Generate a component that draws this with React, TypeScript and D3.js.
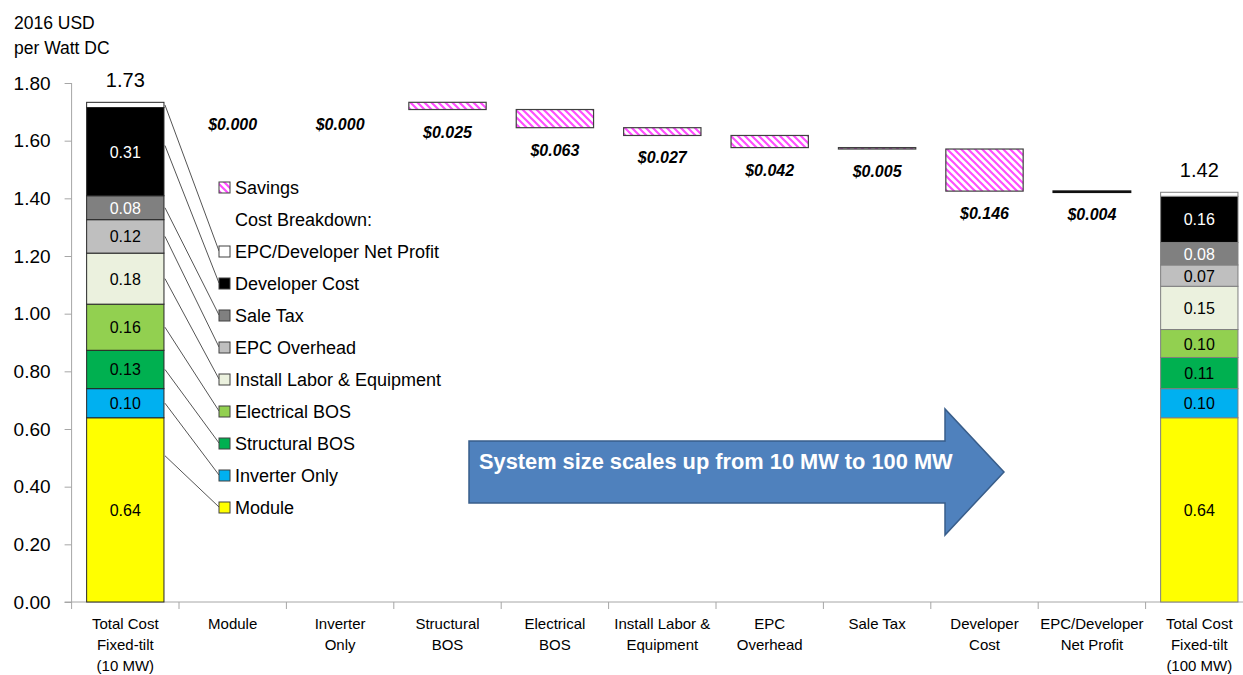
import React, { useEffect, useRef } from 'react';
import * as d3 from 'd3';

// x categories, one array of text lines per column
const categories: string[][] = [
  ['Total Cost', 'Fixed-tilt', '(10 MW)'],
  ['Module'],
  ['Inverter', 'Only'],
  ['Structural', 'BOS'],
  ['Electrical', 'BOS'],
  ['Install Labor &', 'Equipment'],
  ['EPC', 'Overhead'],
  ['Sale Tax'],
  ['Developer', 'Cost'],
  ['EPC/Developer', 'Net Profit'],
  ['Total Cost', 'Fixed-tilt', '(100 MW)'],
];

// cost components, bottom of the stack first
const components = [
  'Module',
  'Inverter Only',
  'Structural BOS',
  'Electrical BOS',
  'Install Labor & Equipment',
  'EPC Overhead',
  'Sale Tax',
  'Developer Cost',
  'EPC/Developer Net Profit',
];
const componentColors = ['#ffff00', '#00b0f0', '#00b050', '#92d050', '#ebf1de', '#bfbfbf', '#808080', '#000000', '#ffffff'];
const whiteText = [false, false, false, false, false, false, true, true, false];

const cost10MW = [0.639, 0.101, 0.133, 0.16, 0.177, 0.116, 0.083, 0.306, 0.018];
const cost100MW = [0.639, 0.101, 0.108, 0.097, 0.15, 0.074, 0.078, 0.16, 0.014];
const savings = [0.0, 0.0, 0.025, 0.063, 0.027, 0.042, 0.005, 0.146, 0.004];

const yTicks = [0, 0.2, 0.4, 0.6, 0.8, 1.0, 1.2, 1.4, 1.6, 1.8];

const FONT = 'Liberation Sans, Arial, sans-serif';
const W = 1243;
const H = 675;

export default function App() {
  const yAxisRef = useRef<SVGGElement>(null);
  const xAxisRef = useRef<SVGGElement>(null);

  const x = d3
    .scaleBand<number>()
    .domain(d3.range(categories.length))
    .range([71.6, 71.6 + 107.4 * categories.length])
    .paddingInner(0.28)
    .paddingOuter(0.14);
  const y = d3.scaleLinear().domain([0, 1.8]).range([602, 83]);
  const bw = x.bandwidth();

  useEffect(() => {
    const ya = d3.select(yAxisRef.current);
    ya.selectAll('*').remove();
    ya.call(
      d3
        .axisLeft(y)
        .tickValues(yTicks)
        .tickSize(7)
        .tickPadding(14)
        .tickFormat(d3.format('.2f') as any)
    );
    ya.select('.domain').attr('stroke', '#a6a6a6').attr('d', `M0,${y(1.8)}V${y(0)}`);
    ya.selectAll('.tick line').attr('stroke', '#a6a6a6');
    ya.selectAll('.tick text').attr('font-size', 19).attr('font-family', FONT).attr('fill', '#000');

    // x axis: line with ticks at the category boundaries
    const xa = d3.select(xAxisRef.current);
    xa.selectAll('*').remove();
    const step = x.step();
    const start = x.range()[0];
    xa.append('line')
      .attr('x1', start - 7)
      .attr('x2', W)
      .attr('y1', y(0))
      .attr('y2', y(0))
      .attr('stroke', '#a6a6a6');
    xa.selectAll('line.tk')
      .data(d3.range(categories.length + 1))
      .join('line')
      .attr('class', 'tk')
      .attr('x1', (i) => start + i * step)
      .attr('x2', (i) => start + i * step)
      .attr('y1', y(0))
      .attr('y2', y(0) + 7)
      .attr('stroke', '#a6a6a6');
  }, []);

  // stacked totals
  const stack = (vals: number[]) => {
    let acc = 0;
    return vals.map((v) => {
      const s = { y0: acc, y1: acc + v, v };
      acc += v;
      return s;
    });
  };
  const stack10 = stack(cost10MW);
  const stack100 = stack(cost100MW);
  const total10 = d3.sum(cost10MW);
  const total100 = d3.sum(cost100MW);

  // waterfall savings steps
  let running = total10;
  const steps = savings.map((s) => {
    const st = { top: running, bottom: running - s, s };
    running -= s;
    return st;
  });

  const legendX = 219;
  const legendY0 = 252;
  const legendStep = 32;
  const fmt2 = d3.format('.2f');

  const renderStack = (data: { y0: number; y1: number; v: number }[], col: number, outline: string) =>
    data.map((d, i) => {
      const h = y(d.y0) - y(d.y1);
      return (
        <g key={`s${col}-${i}`}>
          <rect x={x(col)} y={y(d.y1)} width={bw} height={h} fill={componentColors[i]} stroke={outline} strokeWidth={1} />
          {i < components.length - 1 && (
            <text
              x={(x(col) as number) + bw / 2}
              y={(y(d.y0) + y(d.y1)) / 2 + 6}
              textAnchor="middle"
              fontSize={16}
              fill={whiteText[i] ? '#fff' : '#000'}
            >
              {fmt2(d.v)}
            </text>
          )}
        </g>
      );
    });

  return (
    <svg width={W} height={H} style={{ position: 'absolute', left: 0, top: 0, background: '#fff' }} fontFamily={FONT}>
      <defs>
        <pattern id="hatch" patternUnits="userSpaceOnUse" width={7} height={7}>
          <rect width={7} height={7} fill="#fff" />
          <path d="M0,0 L7,7 M-1,6 L1,8 M6,-1 L8,1" stroke="#ff4dff" strokeWidth={2.2} />
        </pattern>
      </defs>

      {/* axis title */}
      <text x={14} y={29} fontSize={17.5}>2016 USD</text>
      <text x={14} y={54} fontSize={17.5}>per Watt DC</text>

      <g ref={yAxisRef} transform={`translate(${x.range()[0]},0)`} />
      <g ref={xAxisRef} />

      {/* leader lines from first bar to legend */}
      {stack10.map((d, i) => {
        const j = components.length - 1 - i;
        const anchor = Math.min((y(d.y0) + y(d.y1)) / 2, y(d.y1) + 38);
        return (
          <line
            key={`ld${i}`}
            x1={(x(0) as number) + bw + 1}
            y1={anchor}
            x2={legendX}
            y2={legendY0 + j * legendStep - 1}
            stroke="#555"
            strokeWidth={1}
          />
        );
      })}

      {renderStack(stack10, 0, '#262626')}
      {renderStack(stack100, categories.length - 1, '#7f7f7f')}

      <text x={(x(0) as number) + bw / 2} y={y(total10) - 15} textAnchor="middle" fontSize={20}>
        {fmt2(total10)}
      </text>
      <text
        x={(x(categories.length - 1) as number) + bw / 2}
        y={y(total100) - 15}
        textAnchor="middle"
        fontSize={20}
      >
        {fmt2(total100)}
      </text>

      {/* savings waterfall */}
      {steps.map((st, i) => {
        const col = i + 1;
        const cx = (x(col) as number) + bw / 2;
        return (
          <g key={`w${i}`}>
            {st.s > 0 && (
              <rect
                x={x(col)}
                y={y(st.top)}
                width={bw}
                height={Math.max(y(st.bottom) - y(st.top), 0.5)}
                fill="url(#hatch)"
                stroke={st.s < 0.0045 ? '#111' : '#404040'}
                strokeWidth={st.s < 0.0045 ? 1.6 : 1.2}
              />
            )}
            <text
              x={cx}
              y={y(st.bottom) + 28}
              textAnchor="middle"
              fontSize={16}
              fontWeight="bold"
              fontStyle="italic"
            >
              {'$' + d3.format('.3f')(st.s)}
            </text>
          </g>
        );
      })}

      {/* legend */}
      <rect x={legendX} y={188 - 6} width={11} height={11} fill="url(#hatch)" stroke="#404040" />
      <text x={235} y={194} fontSize={18}>Savings</text>
      <text x={235} y={226} fontSize={18}>Cost Breakdown:</text>
      {components
        .map((c, i) => ({ c, i }))
        .reverse()
        .map(({ c, i }, j) => {
          const cy = legendY0 + j * legendStep;
          return (
            <g key={`lg${i}`}>
              <rect x={legendX} y={cy - 6} width={11} height={11} fill={componentColors[i]} stroke="#404040" />
              <text x={235} y={cy + 6} fontSize={18}>
                {c}
              </text>
            </g>
          );
        })}

      {/* x category labels */}
      {categories.map((lines, i) => (
        <text key={`c${i}`} x={(x(i) as number) + bw / 2} textAnchor="middle" fontSize={15}>
          {lines.map((l, k) => (
            <tspan key={k} x={(x(i) as number) + bw / 2} y={629 + k * 21}>
              {l}
            </tspan>
          ))}
        </text>
      ))}

      {/* annotation arrow */}
      <path
        d="M469,441 H945 V409 L1004,472 L945,535 V503 H469 Z"
        fill="#4f81bd"
        stroke="#385d8a"
        strokeWidth={1.5}
      />
      <text x={479} y={469} fontSize={21.8} fontWeight="bold" fill="#fff">
        System size scales up from 10 MW to 100 MW
      </text>
    </svg>
  );
}
